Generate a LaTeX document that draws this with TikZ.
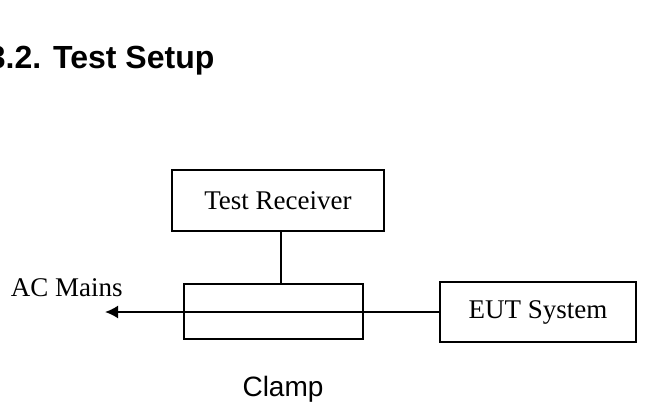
\documentclass[tikz,border=0pt]{standalone}
\usepackage{fontspec}
\setmainfont{Liberation Serif}
\setsansfont{Liberation Sans}
\usetikzlibrary{arrows.meta}
\newlength{\du}
\setlength{\du}{1pt}

\begin{document}
\begin{tikzpicture}[x=1\du,y=-1\du,line width=1.9\du,
  unitbox/.style={draw,inner sep=0pt,font=\fontsize{27}{30}\selectfont},
  plainlabel/.style={inner sep=0pt,font=\fontsize{27}{30}\selectfont},
  sanslabel/.style={inner sep=0pt,font=\sffamily\fontsize{28}{32}\selectfont}]
\useasboundingbox (0,0) rectangle (663,405);
\node[anchor=base west,inner sep=0pt,font=\sffamily\bfseries\fontsize{32}{36}\selectfont] (title) at (-13,68) {3.2. Test Setup};
\node[unitbox,minimum width=212\du,minimum height=61\du] (receiver) at (278,200.5) {Test Receiver};
\node[unitbox,minimum width=179\du,minimum height=55\du] (clamp) at (273.5,311.5) {};
\node[unitbox,minimum width=196\du,minimum height=60\du] (eut) at (538,312) {EUT System};
\node[plainlabel,anchor=west] (mainslbl) at (10,288) {AC Mains};
\node[sanslabel] (clamplbl) at (283,389) {Clamp};
\coordinate (mains) at (105,312);
\draw ([xshift=3\du]receiver.south) -- ([xshift=3\du]receiver.south |- clamp.north);
\draw[-{Latex[length=13pt,width=13pt]}] (eut.west) -- (mains);
\end{tikzpicture}
\end{document}
